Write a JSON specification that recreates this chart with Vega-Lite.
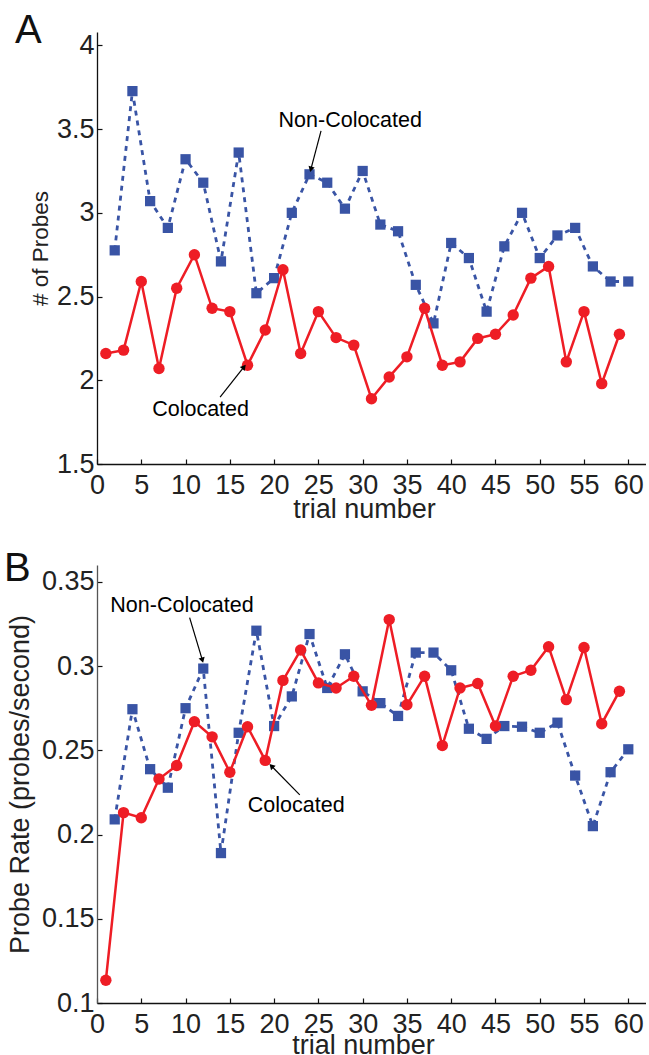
{
  "$schema": "https://vega.github.io/schema/vega-lite/v6.json",
  "padding": {"left": 4, "top": 11, "right": 0, "bottom": 0},
  "autosize": {"type": "pad"},
  "background": "white",
  "config": {
    "font": "Liberation Sans",
    "view": {"stroke": null},
    "axis": {
      "grid": false,
      "domainColor": "#111",
      "domainWidth": 1.3,
      "tickColor": "#111",
      "tickWidth": 1.2,
      "tickSize": -5,
      "labelColor": "#222",
      "titleColor": "#222",
      "labelFont": "Liberation Sans",
      "titleFont": "Liberation Sans",
      "labelFontSize": 27,
      "titleFontSize": 27,
      "titleFontWeight": "normal",
      "labelOverlap": false,
      "labelFlush": false,
      "labelBound": false
    },
    "axisX": {"labelPadding": 13, "titlePadding": -2},
    "axisY": {"labelPadding": 8, "titleFontSize": 22.5},
    "title": {"fontSize": 40, "fontWeight": "normal", "color": "#111", "font": "Liberation Sans"}
  },
  "datasets": {
    "probes": [
      {"trial": 1, "group": "Colocated", "value": 2.16},
      {"trial": 3, "group": "Colocated", "value": 2.18},
      {"trial": 5, "group": "Colocated", "value": 2.59},
      {"trial": 7, "group": "Colocated", "value": 2.07},
      {"trial": 9, "group": "Colocated", "value": 2.55},
      {"trial": 11, "group": "Colocated", "value": 2.75},
      {"trial": 13, "group": "Colocated", "value": 2.43},
      {"trial": 15, "group": "Colocated", "value": 2.41},
      {"trial": 17, "group": "Colocated", "value": 2.09},
      {"trial": 19, "group": "Colocated", "value": 2.30},
      {"trial": 21, "group": "Colocated", "value": 2.66},
      {"trial": 23, "group": "Colocated", "value": 2.16},
      {"trial": 25, "group": "Colocated", "value": 2.41},
      {"trial": 27, "group": "Colocated", "value": 2.255},
      {"trial": 29, "group": "Colocated", "value": 2.21},
      {"trial": 31, "group": "Colocated", "value": 1.89},
      {"trial": 33, "group": "Colocated", "value": 2.02},
      {"trial": 35, "group": "Colocated", "value": 2.14},
      {"trial": 37, "group": "Colocated", "value": 2.43},
      {"trial": 39, "group": "Colocated", "value": 2.09},
      {"trial": 41, "group": "Colocated", "value": 2.11},
      {"trial": 43, "group": "Colocated", "value": 2.25},
      {"trial": 45, "group": "Colocated", "value": 2.275},
      {"trial": 47, "group": "Colocated", "value": 2.39},
      {"trial": 49, "group": "Colocated", "value": 2.61},
      {"trial": 51, "group": "Colocated", "value": 2.68},
      {"trial": 53, "group": "Colocated", "value": 2.11},
      {"trial": 55, "group": "Colocated", "value": 2.41},
      {"trial": 57, "group": "Colocated", "value": 1.98},
      {"trial": 59, "group": "Colocated", "value": 2.275},
      {"trial": 2, "group": "Non-Colocated", "value": 2.776},
      {"trial": 4, "group": "Non-Colocated", "value": 3.727},
      {"trial": 6, "group": "Non-Colocated", "value": 3.07},
      {"trial": 8, "group": "Non-Colocated", "value": 2.91},
      {"trial": 10, "group": "Non-Colocated", "value": 3.32},
      {"trial": 12, "group": "Non-Colocated", "value": 3.18},
      {"trial": 14, "group": "Non-Colocated", "value": 2.71},
      {"trial": 16, "group": "Non-Colocated", "value": 3.36},
      {"trial": 18, "group": "Non-Colocated", "value": 2.52},
      {"trial": 20, "group": "Non-Colocated", "value": 2.61},
      {"trial": 22, "group": "Non-Colocated", "value": 3.00},
      {"trial": 24, "group": "Non-Colocated", "value": 3.23},
      {"trial": 26, "group": "Non-Colocated", "value": 3.18},
      {"trial": 28, "group": "Non-Colocated", "value": 3.025},
      {"trial": 30, "group": "Non-Colocated", "value": 3.25},
      {"trial": 32, "group": "Non-Colocated", "value": 2.93},
      {"trial": 34, "group": "Non-Colocated", "value": 2.89},
      {"trial": 36, "group": "Non-Colocated", "value": 2.57},
      {"trial": 38, "group": "Non-Colocated", "value": 2.34},
      {"trial": 40, "group": "Non-Colocated", "value": 2.82},
      {"trial": 42, "group": "Non-Colocated", "value": 2.73},
      {"trial": 44, "group": "Non-Colocated", "value": 2.41},
      {"trial": 46, "group": "Non-Colocated", "value": 2.80},
      {"trial": 48, "group": "Non-Colocated", "value": 3.00},
      {"trial": 50, "group": "Non-Colocated", "value": 2.73},
      {"trial": 52, "group": "Non-Colocated", "value": 2.865},
      {"trial": 54, "group": "Non-Colocated", "value": 2.91},
      {"trial": 56, "group": "Non-Colocated", "value": 2.68},
      {"trial": 58, "group": "Non-Colocated", "value": 2.59},
      {"trial": 60, "group": "Non-Colocated", "value": 2.59}
    ],
    "rate": [
      {"trial": 1, "group": "Colocated", "value": 0.1135},
      {"trial": 3, "group": "Colocated", "value": 0.213},
      {"trial": 5, "group": "Colocated", "value": 0.210},
      {"trial": 7, "group": "Colocated", "value": 0.233},
      {"trial": 9, "group": "Colocated", "value": 0.241},
      {"trial": 11, "group": "Colocated", "value": 0.267},
      {"trial": 13, "group": "Colocated", "value": 0.258},
      {"trial": 15, "group": "Colocated", "value": 0.237},
      {"trial": 17, "group": "Colocated", "value": 0.264},
      {"trial": 19, "group": "Colocated", "value": 0.244},
      {"trial": 21, "group": "Colocated", "value": 0.2915},
      {"trial": 23, "group": "Colocated", "value": 0.3095},
      {"trial": 25, "group": "Colocated", "value": 0.290},
      {"trial": 27, "group": "Colocated", "value": 0.287},
      {"trial": 29, "group": "Colocated", "value": 0.294},
      {"trial": 31, "group": "Colocated", "value": 0.2767},
      {"trial": 33, "group": "Colocated", "value": 0.3276},
      {"trial": 35, "group": "Colocated", "value": 0.277},
      {"trial": 37, "group": "Colocated", "value": 0.294},
      {"trial": 39, "group": "Colocated", "value": 0.2528},
      {"trial": 41, "group": "Colocated", "value": 0.287},
      {"trial": 43, "group": "Colocated", "value": 0.2897},
      {"trial": 45, "group": "Colocated", "value": 0.2644},
      {"trial": 47, "group": "Colocated", "value": 0.294},
      {"trial": 49, "group": "Colocated", "value": 0.2975},
      {"trial": 51, "group": "Colocated", "value": 0.3115},
      {"trial": 53, "group": "Colocated", "value": 0.2801},
      {"trial": 55, "group": "Colocated", "value": 0.311},
      {"trial": 57, "group": "Colocated", "value": 0.2658},
      {"trial": 59, "group": "Colocated", "value": 0.2851},
      {"trial": 2, "group": "Non-Colocated", "value": 0.209},
      {"trial": 4, "group": "Non-Colocated", "value": 0.2744},
      {"trial": 6, "group": "Non-Colocated", "value": 0.2388},
      {"trial": 8, "group": "Non-Colocated", "value": 0.2278},
      {"trial": 10, "group": "Non-Colocated", "value": 0.275},
      {"trial": 12, "group": "Non-Colocated", "value": 0.2985},
      {"trial": 14, "group": "Non-Colocated", "value": 0.189},
      {"trial": 16, "group": "Non-Colocated", "value": 0.2604},
      {"trial": 18, "group": "Non-Colocated", "value": 0.321},
      {"trial": 20, "group": "Non-Colocated", "value": 0.2644},
      {"trial": 22, "group": "Non-Colocated", "value": 0.282},
      {"trial": 24, "group": "Non-Colocated", "value": 0.319},
      {"trial": 26, "group": "Non-Colocated", "value": 0.287},
      {"trial": 28, "group": "Non-Colocated", "value": 0.307},
      {"trial": 30, "group": "Non-Colocated", "value": 0.285},
      {"trial": 32, "group": "Non-Colocated", "value": 0.278},
      {"trial": 34, "group": "Non-Colocated", "value": 0.2704},
      {"trial": 36, "group": "Non-Colocated", "value": 0.308},
      {"trial": 38, "group": "Non-Colocated", "value": 0.308},
      {"trial": 40, "group": "Non-Colocated", "value": 0.2975},
      {"trial": 42, "group": "Non-Colocated", "value": 0.2628},
      {"trial": 44, "group": "Non-Colocated", "value": 0.2568},
      {"trial": 46, "group": "Non-Colocated", "value": 0.2644},
      {"trial": 48, "group": "Non-Colocated", "value": 0.264},
      {"trial": 50, "group": "Non-Colocated", "value": 0.2604},
      {"trial": 52, "group": "Non-Colocated", "value": 0.2664},
      {"trial": 54, "group": "Non-Colocated", "value": 0.235},
      {"trial": 56, "group": "Non-Colocated", "value": 0.205},
      {"trial": 58, "group": "Non-Colocated", "value": 0.237},
      {"trial": 60, "group": "Non-Colocated", "value": 0.2506}
    ],
    "notesA": [
      {"trial": 28.6, "value": 3.55, "label": "Non-Colocated"},
      {"trial": 11.7, "value": 1.82, "label": "Colocated"}
    ],
    "arrowsA": [
      {"id": "n", "trial": 24.15, "value": 3.26, "trial2": 25.3, "value2": 3.49},
      {"id": "c", "trial": 16.6, "value": 2.08, "trial2": 13.9, "value2": 1.90}
    ],
    "notesB": [
      {"trial": 9.6, "value": 0.3356, "label": "Non-Colocated"},
      {"trial": 22.5, "value": 0.217, "label": "Colocated"}
    ],
    "arrowsB": [
      {"id": "n", "trial": 11.9, "value": 0.3035, "trial2": 10.46, "value2": 0.3288},
      {"id": "c", "trial": 19.7, "value": 0.2407, "trial2": 22.9, "value2": 0.2235}
    ]
  },
  "bounds": "flush",
  "spacing": 101,
  "vconcat": [
    {
      "width": 549,
      "height": 432,
      "title": {"text": "A", "anchor": "start", "frame": "group", "offset": -40, "baseline": "alphabetic", "dx": -82, "dy": 12},
      "data": {"name": "probes"},
      "encoding": {
        "x": {"field": "trial", "type": "quantitative", "scale": {"domain": [0, 62], "nice": false, "zero": false},
              "axis": {"values": [0, 5, 10, 15, 20, 25, 30, 35, 40, 45, 50, 55, 60], "title": "trial number", "titleX": 267}},
        "y": {"field": "value", "type": "quantitative", "scale": {"domain": [1.5, 4.08], "nice": false, "zero": false},
              "axis": {"values": [1.5, 2, 2.5, 3, 3.5, 4], "format": "~g", "title": "# of Probes", "titlePadding": 4}}
      },
      "layer": [
        {"transform": [{"filter": "datum.group === 'Non-Colocated'"}],
         "mark": {"type": "line", "color": "#3954A5", "strokeWidth": 2.8, "strokeDash": [5, 5]}},
        {"transform": [{"filter": "datum.group === 'Non-Colocated'"}],
         "mark": {"type": "point", "shape": "square", "filled": true, "color": "#3954A5", "size": 105, "opacity": 1}},
        {"transform": [{"filter": "datum.group === 'Colocated'"}],
         "mark": {"type": "line", "color": "#EE1D25", "strokeWidth": 2.5}},
        {"transform": [{"filter": "datum.group === 'Colocated'"}],
         "mark": {"type": "point", "shape": "circle", "filled": true, "color": "#EE1D25", "size": 130, "opacity": 1}},
        {"data": {"name": "notesA"},
         "mark": {"type": "text", "fontSize": 21.5, "color": "#000", "align": "center", "baseline": "middle", "font": "Liberation Sans"},
         "encoding": {"text": {"field": "label"}}},
        {"data": {"name": "arrowsA"},
         "mark": {"type": "rule", "color": "#000", "strokeWidth": 1.2},
         "encoding": {"x2": {"field": "trial2"}, "y2": {"field": "value2"}}},
        {"data": {"name": "arrowsA"},
         "transform": [{"filter": "datum.id === 'n'"}],
         "mark": {"type": "point", "shape": "triangle-up", "filled": true, "color": "#000", "size": 40, "angle": 195.6, "opacity": 1},
         "encoding": {}},
        {"data": {"name": "arrowsA"},
         "transform": [{"filter": "datum.id === 'c'"}],
         "mark": {"type": "point", "shape": "triangle-up", "filled": true, "color": "#000", "size": 40, "angle": 38.7, "opacity": 1},
         "encoding": {}}
      ]
    },
    {
      "width": 549,
      "height": 438,
      "title": {"text": "B", "anchor": "start", "frame": "group", "offset": -40, "baseline": "alphabetic", "dx": -93, "dy": 16},
      "data": {"name": "rate"},
      "encoding": {
        "x": {"field": "trial", "type": "quantitative", "scale": {"domain": [0, 62], "nice": false, "zero": false},
              "axis": {"values": [0, 5, 10, 15, 20, 25, 30, 35, 40, 45, 50, 55, 60], "title": "trial number", "titleX": 266, "titlePadding": -5}},
        "y": {"field": "value", "type": "quantitative", "scale": {"domain": [0.1, 0.36], "nice": false, "zero": false},
              "axis": {"values": [0.1, 0.15, 0.2, 0.25, 0.3, 0.35], "format": "~g", "title": "Probe Rate (probes/second)", "titlePadding": 7, "titleFontSize": 27, "domainColor": "#555"}}
      },
      "layer": [
        {"transform": [{"filter": "datum.group === 'Non-Colocated'"}],
         "mark": {"type": "line", "color": "#3954A5", "strokeWidth": 2.8, "strokeDash": [5, 5]}},
        {"transform": [{"filter": "datum.group === 'Non-Colocated'"}],
         "mark": {"type": "point", "shape": "square", "filled": true, "color": "#3954A5", "size": 105, "opacity": 1}},
        {"transform": [{"filter": "datum.group === 'Colocated'"}],
         "mark": {"type": "line", "color": "#EE1D25", "strokeWidth": 2.5}},
        {"transform": [{"filter": "datum.group === 'Colocated'"}],
         "mark": {"type": "point", "shape": "circle", "filled": true, "color": "#EE1D25", "size": 130, "opacity": 1}},
        {"data": {"name": "notesB"},
         "mark": {"type": "text", "fontSize": 21.5, "color": "#000", "align": "center", "baseline": "middle", "font": "Liberation Sans"},
         "encoding": {"text": {"field": "label"}}},
        {"data": {"name": "arrowsB"},
         "mark": {"type": "rule", "color": "#000", "strokeWidth": 1.2},
         "encoding": {"x2": {"field": "trial2"}, "y2": {"field": "value2"}}},
        {"data": {"name": "arrowsB"},
         "transform": [{"filter": "datum.id === 'n'"}],
         "mark": {"type": "point", "shape": "triangle-up", "filled": true, "color": "#000", "size": 40, "angle": 163.4, "opacity": 1},
         "encoding": {}},
        {"data": {"name": "arrowsB"},
         "transform": [{"filter": "datum.id === 'c'"}],
         "mark": {"type": "point", "shape": "triangle-up", "filled": true, "color": "#000", "size": 40, "angle": 315.7, "opacity": 1},
         "encoding": {}}
      ]
    }
  ]
}
